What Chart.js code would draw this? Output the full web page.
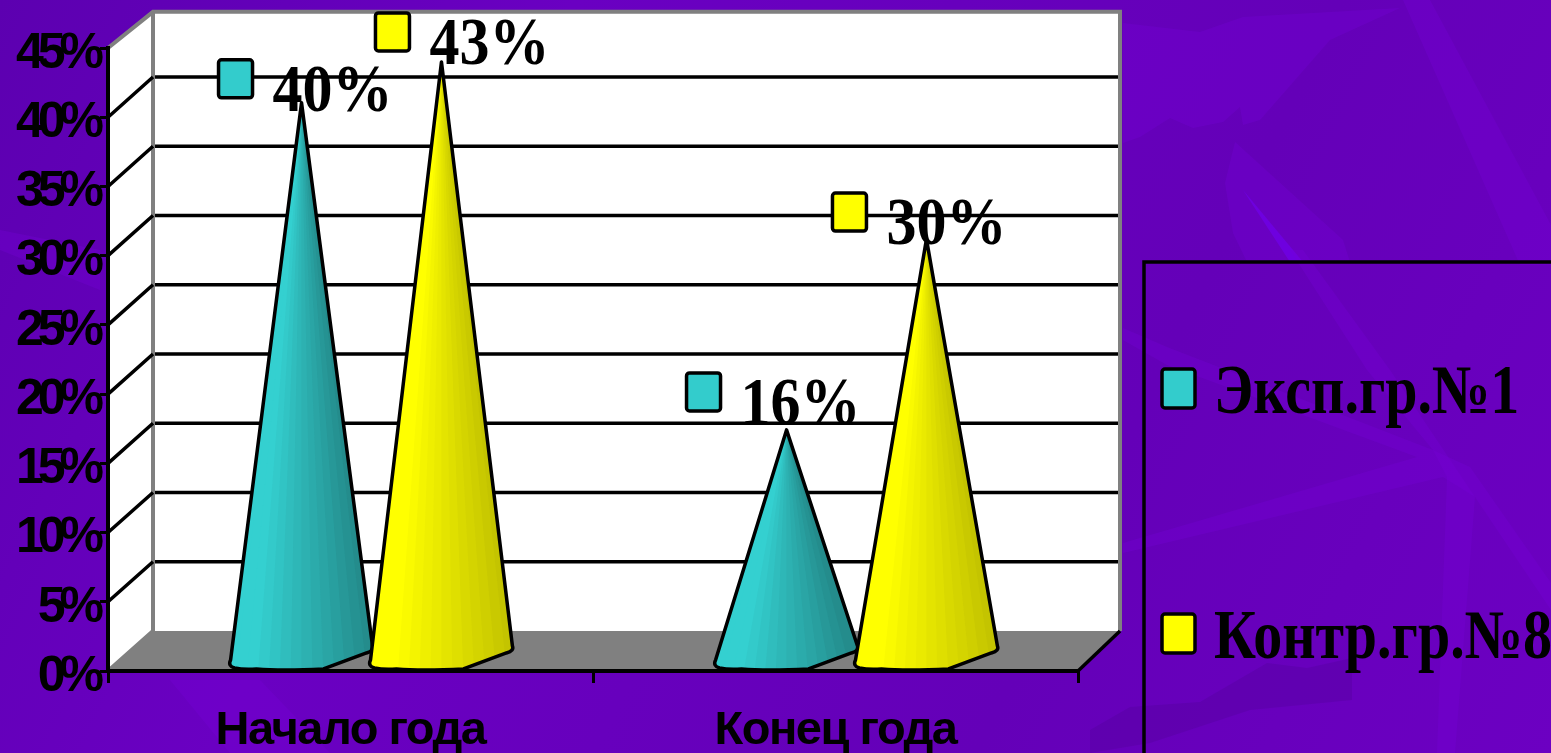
<!DOCTYPE html>
<html>
<head>
<meta charset="utf-8">
<title>Эксп. и контр. группы</title>
<script src="https://cdn.jsdelivr.net/npm/chart.js@4"></script>
<style>
    html, body { margin: 0; padding: 0; background: #6400b8; overflow: hidden; }
    #wrap { position: relative; width: 1551px; height: 753px; }
</style>
</head>
<body>
<div id="wrap"><canvas id="myChart" width="1551" height="753"></canvas></div>
<script>
var categories = ['Начало года', 'Конец года'];
var seriesNames = ['Эксп.гр.№1', 'Контр.гр.№8'];
var expValues = [40, 16];
var contrValues = [43, 30];
var percentTicks = [0, 5, 10, 15, 20, 25, 30, 35, 40, 45];

var palette = [
    { light: [52, 208, 208], dark: [36, 140, 140], key: '#33cccc' },
    { light: [255, 255, 0], dark: [196, 196, 0], key: '#ffff00' }
];

function shade(c, t) {
    var r = Math.round(c.light[0] + (c.dark[0] - c.light[0]) * t);
    var g = Math.round(c.light[1] + (c.dark[1] - c.light[1]) * t);
    var b = Math.round(c.light[2] + (c.dark[2] - c.light[2]) * t);
    return 'rgb(' + r + ',' + g + ',' + b + ')';
}

// key square with a thick black outline
function keySquare(ctx, x, y, w, h, color) {
    ctx.beginPath();
    ctx.roundRect(x, y, w, h, 3);
    ctx.fillStyle = color;
    ctx.fill();
    ctx.lineWidth = 3.5;
    ctx.strokeStyle = '#000';
    ctx.stroke();
}

// serif text stretched a little in height
function tallText(ctx, text, x, y, size, stretch) {
    ctx.save();
    ctx.translate(x, y);
    ctx.scale(1, stretch);
    ctx.font = 'bold ' + size + 'px "Liberation Serif"';
    ctx.fillStyle = '#000';
    ctx.textAlign = 'left';
    ctx.textBaseline = 'alphabetic';
    ctx.fillText(text, 0, 0);
    ctx.restore();
}

// faint streaks of the slide background
var backdrop = {
    id: 'backdrop',
    beforeDraw: function(chart) {
        var ctx = chart.ctx;
        var bg = ctx.createLinearGradient(0, 0, 1551, 753);
        bg.addColorStop(0, '#5c00b0');
        bg.addColorStop(0.3, '#6a00c2');
        bg.addColorStop(0.7, '#6400b8');
        bg.addColorStop(1, '#6c00c2');
        ctx.fillStyle = bg;
        ctx.fillRect(0, 0, 1551, 753);
        var light = 'rgba(118,0,215,0.32)';
        var bright = 'rgba(112,0,235,0.7)';
        var dark = 'rgba(80,0,150,0.3)';
        var shapes = [
            [light, [1123, 23, 1200, 32, 1243, 17, 1400, 8, 1330, 40, 1260, 120, 1243, 125, 1240, 107, 1223, 122, 1193, 128, 1170, 118, 1140, 137, 1123, 143]],
            [light, [1403, 0, 1430, 0, 1551, 225, 1551, 265, 1520, 265]],
            [light, [1235, 142, 1343, 240, 1350, 262, 1247, 262, 1233, 233, 1225, 183]],
            [bright, [1243, 190, 1303, 262, 1290, 262]],
            [light, [1290, 250, 1303, 250, 1390, 370, 1475, 497, 1455, 753, 1437, 753, 1447, 477, 1433, 450, 1367, 370]],
            [light, [1123, 328, 1167, 347, 1433, 450, 1470, 467, 1551, 583, 1551, 610, 1475, 497, 1443, 477, 1123, 553, 1123, 543, 1417, 457, 1167, 365, 1123, 340]],
            [dark, [1090, 730, 1130, 707, 1200, 702, 1267, 663, 1307, 668, 1352, 658, 1352, 700, 1250, 710, 1150, 743, 1090, 753]],
            [light, [0, 230, 100, 250, 100, 290, 0, 250]],
            [light, [170, 680, 260, 680, 330, 753, 230, 753]]
        ];
        shapes.forEach(function(s) {
            ctx.beginPath();
            ctx.moveTo(s[1][0], s[1][1]);
            for (var i = 2; i < s[1].length; i += 2) ctx.lineTo(s[1][i], s[1][i + 1]);
            ctx.closePath();
            ctx.fillStyle = s[0];
            ctx.fill();
        });
    }
};

// side wall, back wall, floor and their rulings, placed with the wall scale
var walls = {
    id: 'walls',
    beforeDraw: function(chart) {
        var ctx = chart.ctx, front = chart.scales.y, back = chart.scales.wall;
        var a = chart.chartArea;
        var depth = 45;
        var backL = a.left + depth, backR = a.right + 42;
        var top = back.getPixelForValue(44.7), bottom = back.getPixelForValue(0);
        var frontTop = front.getPixelForValue(45), frontBottom = front.getPixelForValue(0);
        ctx.save();
        ctx.fillStyle = '#fff';
        ctx.beginPath();
        ctx.moveTo(a.left, frontTop);
        ctx.lineTo(backL, top);
        ctx.lineTo(backR, top);
        ctx.lineTo(backR, bottom);
        ctx.lineTo(a.left, frontBottom);
        ctx.closePath();
        ctx.fill();

        ctx.fillStyle = '#808080';
        ctx.beginPath();
        ctx.moveTo(a.left, frontBottom);
        ctx.lineTo(backL, bottom);
        ctx.lineTo(backR, bottom);
        ctx.lineTo(a.right, frontBottom);
        ctx.closePath();
        ctx.fill();

        // grey edges of the walls
        ctx.strokeStyle = '#808080';
        ctx.lineWidth = 4;
        ctx.beginPath();
        ctx.moveTo(a.left, frontTop);
        ctx.lineTo(backL, top);
        ctx.lineTo(backR, top);
        ctx.lineTo(backR, bottom);
        ctx.moveTo(backL, top);
        ctx.lineTo(backL, bottom);
        ctx.lineTo(a.left, frontBottom);
        ctx.stroke();

        // rulings
        ctx.strokeStyle = '#000';
        ctx.lineWidth = 3.5;
        percentTicks.forEach(function(v) {
            if (v === 0 || v === 45) return;
            var fy = front.getPixelForValue(v), by = back.getPixelForValue(v);
            ctx.beginPath();
            ctx.moveTo(a.left, fy);
            ctx.lineTo(backL, by);
            ctx.moveTo(backL + 2, by);
            ctx.lineTo(backR - 2, by);
            ctx.stroke();
        });
        ctx.beginPath();
        ctx.moveTo(a.right, frontBottom);
        ctx.lineTo(backR, bottom);
        ctx.stroke();
        ctx.restore();
    }
};

// cones on top of the invisible bars, shaded in wedges from the tip
function drawCone(ctx, bar, color) {
    var cx = bar.x + 21, tip = bar.y, base = bar.base;
    var half = bar.width / 2 + 1;
    var l = cx - half, r = cx + half;
    function outline() {
        ctx.beginPath();
        ctx.moveTo(cx, tip);
        ctx.lineTo(r, base - 2);
        ctx.quadraticCurveTo(r + 2, base + 3, r - 6, base + 5);
        ctx.lineTo(cx + 22, base + 21);
        ctx.quadraticCurveTo(cx - 20, base + 23, cx - 45, base + 21);
        ctx.quadraticCurveTo(cx - 58, base + 22, l + 4, base + 20);
        ctx.quadraticCurveTo(l - 3, base + 18, l, base + 12);
        ctx.closePath();
    }
    ctx.save();
    outline();
    ctx.save();
    ctx.clip();
    var bands = 14;
    var right = r + 10;
    // each wedge runs to the right edge so no seam shows between bands
    for (var i = 0; i < bands; i++) {
        var x0 = l - 6 + (r - l + 12) * i / bands;
        ctx.beginPath();
        ctx.moveTo(cx, tip - 2);
        ctx.lineTo(x0, base + 30);
        ctx.lineTo(right, base + 30);
        ctx.lineTo(right, tip - 2);
        ctx.closePath();
        ctx.fillStyle = shade(color, Math.max(0, (i - 2) / (bands - 3)));
        ctx.fill();
    }
    ctx.restore();
    outline();
    ctx.lineWidth = 3.5;
    ctx.lineJoin = 'round';
    ctx.strokeStyle = '#000';
    ctx.stroke();
    ctx.restore();
}

var cones = {
    id: 'cones',
    afterDatasetsDraw: function(chart) {
        var ctx = chart.ctx;
        categories.forEach(function(c, i) {
            chart.data.datasets.forEach(function(ds, d) {
                drawCone(ctx, chart.getDatasetMeta(d).data[i], palette[d]);
            });
        });
    }
};

// "■ 40%" tags near the tips, offset from each tip by series and category
var tagOffsets = [
    [[-83, -43], [-100, -57]],
    [[-66, -49], [-94, -46]]
];

var valueTags = {
    id: 'valueTags',
    afterDraw: function(chart) {
        var ctx = chart.ctx;
        chart.data.datasets.forEach(function(ds, d) {
            chart.getDatasetMeta(d).data.forEach(function(bar, i) {
                var x = bar.x + 21 + tagOffsets[d][i][0], y = bar.y + tagOffsets[d][i][1];
                keySquare(ctx, x, y, 34, 38, palette[d].key);
                tallText(ctx, ds.data[i] + '%', x + 54, y + 51, 60, 1.12);
            });
        });
    }
};

var keyBox = {
    id: 'keyBox',
    afterDraw: function(chart) {
        var ctx = chart.ctx;
        ctx.save();
        ctx.strokeStyle = '#000';
        ctx.lineWidth = 3.5;
        ctx.beginPath();
        ctx.moveTo(1144, 760);
        ctx.lineTo(1144, 262);
        ctx.lineTo(1560, 262);
        ctx.stroke();
        ctx.restore();
        seriesNames.forEach(function(name, d) {
            var y = 369 + d * 245;
            keySquare(ctx, 1162, y, 33, 39, palette[d].key);
            tallText(ctx, name, 1214, y + 44, 58, 1.2);
        });
    }
};

// shifts and tightens the tick labels of an axis
function tuneLabels(spacing, dy) {
    return function(scale) {
        if (scale.$tuned) return;
        scale.$tuned = true;
        var drawLabels = scale.drawLabels;
        scale.drawLabels = function(area) {
            var ctx = this.ctx;
            ctx.save();
            ctx.letterSpacing = spacing;
            ctx.translate(0, dy);
            drawLabels.call(this, area);
            ctx.restore();
        };
    };
}

var ctx = document.getElementById('myChart').getContext('2d');
var chart = new Chart(ctx, {
    type: 'bar',
    data: {
        labels: categories,
        datasets: [
            {
                label: seriesNames[0],
                data: expValues,
                backgroundColor: 'rgba(0,0,0,0)',
                yAxisID: 'cone',
                categoryPercentage: 0.577,
                barPercentage: 1
            },
            {
                label: seriesNames[1],
                data: contrValues,
                backgroundColor: 'rgba(0,0,0,0)',
                yAxisID: 'cone',
                categoryPercentage: 0.577,
                barPercentage: 1
            }
        ]
    },
    options: {
        responsive: false,
        animation: false,
        layout: { padding: { left: 0, top: 48, right: 473, bottom: 0 } },
        plugins: {
            legend: { display: false },
            tooltip: { enabled: false }
        },
        scales: {
            x: {
                afterFit: function(scale) { scale.height = 82; },
                afterUpdate: tuneLabels('-1.5px', 0),
                grid: { drawOnChartArea: false, color: '#000', lineWidth: 3, tickLength: 12 },
                border: { color: '#000', width: 4 },
                ticks: {
                    color: '#000',
                    padding: 20,
                    maxRotation: 0,
                    font: { family: '"Liberation Sans"', size: 47, weight: 'bold' }
                }
            },
            y: {
                min: 0,
                max: 45,
                afterFit: function(scale) { scale.width = 108; },
                afterUpdate: tuneLabels('-6px', 6),
                grid: { drawOnChartArea: false, color: '#000', lineWidth: 3, tickLength: 8 },
                border: { color: '#000', width: 4 },
                afterBuildTicks: function(scale) {
                    scale.ticks = percentTicks.map(function(v) { return { value: v }; });
                },
                ticks: {
                    color: '#000',
                    padding: 2,
                    callback: function(v) { return v + '%'; },
                    font: { family: '"Liberation Sans"', size: 50, weight: 'bold' }
                }
            },
            // hidden scales for the receding planes of the plot
            cone: { axis: 'y', display: false, min: -1.69, max: 44.02 },
            wall: { axis: 'y', display: false, min: -2.89, max: 42.09 }
        }
    },
    plugins: [backdrop, walls, cones, valueTags, keyBox]
});
</script>
</body>
</html>
